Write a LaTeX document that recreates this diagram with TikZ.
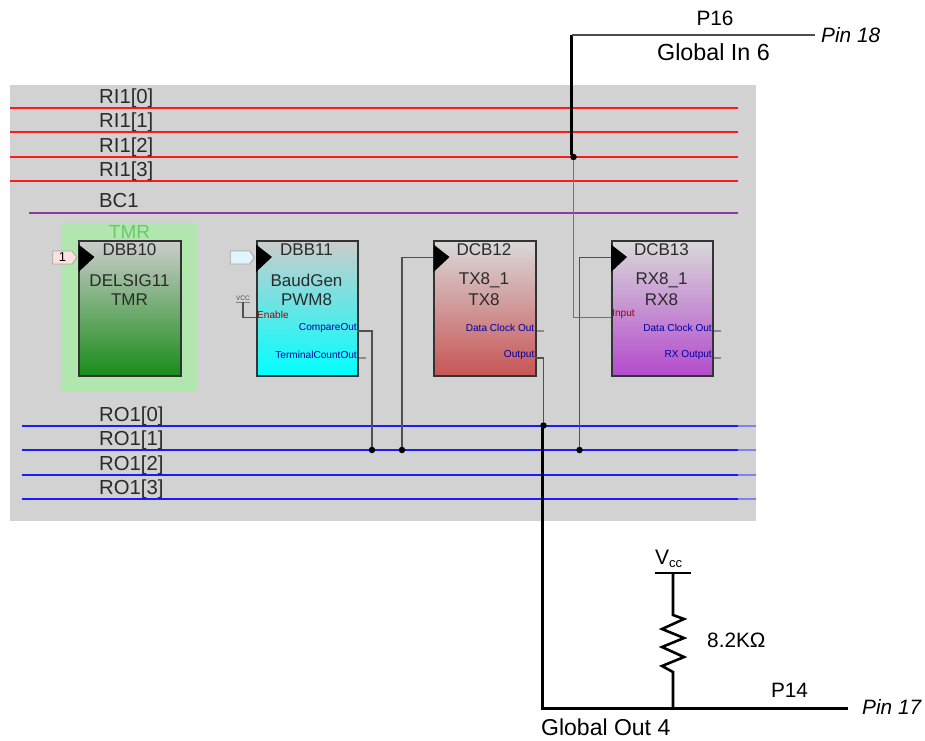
\documentclass[tikz,border=0pt]{standalone}
\usepackage{fontspec}
\setmainfont{Liberation Sans}
\usetikzlibrary{shapes.geometric,shapes.symbols}
\definecolor{panel}{HTML}{D2D2D2}
\definecolor{tmrbg}{HTML}{B2E6AF}
\definecolor{tmrtxt}{HTML}{66CC66}
\definecolor{wire}{HTML}{505050}
\definecolor{ink}{HTML}{2A2A2A}
\definecolor{busred}{HTML}{FF1A1A}
\definecolor{busblue}{HTML}{1A1AFF}
\definecolor{busfade}{HTML}{8080F0}
\definecolor{buspurple}{HTML}{8E3A9E}
\definecolor{portblue}{HTML}{0000A0}
\definecolor{portred}{HTML}{A00000}
\tikzset{
  x=1pt,y=-1pt,
  block/.style={draw=black!80,line width=2.1pt,minimum width=101.5pt,minimum height=135pt,inner sep=0pt,anchor=north west},
  blab/.style={inner sep=0pt,font=\fontsize{17}{19}\selectfont,text=ink},
  buslab/.style={inner sep=0pt,anchor=base west,font=\fontsize{20.3}{22}\selectfont,text=ink},
  lab/.style={inner sep=0pt,text=black},
  pinlab/.style={inner sep=0pt,anchor=west,font=\fontsize{20.8}{23}\selectfont\itshape,text=black},
  portout/.style={inner sep=0pt,anchor=east,font=\fontsize{10.1}{11}\selectfont,text=portblue},
  portin/.style={inner sep=0pt,anchor=west,font=\fontsize{10.1}{11}\selectfont,text=portred},
  redbus/.style={draw=busred,line width=1.9pt},
  bluebus/.style={draw=busblue,line width=1.9pt},
  fadebus/.style={draw=busfade,line width=1.9pt},
  thinwire/.style={draw=wire,line width=1.2pt},
  heavy/.style={draw=black,line width=3pt},
  junction/.style={circle,fill=black,inner sep=0pt,minimum size=6.5pt},
  clocktip/.style={fill=black},
  stubwire/.style={draw=black!45,line width=1.2pt},
  inpin/.style={draw=black!35,shape=signal,signal to=east,signal pointer angle=110,minimum width=24pt,minimum height=13pt,inner sep=0pt,line width=.8pt}
}
\begin{document}
\begin{tikzpicture}
\useasboundingbox (0,0) rectangle (925,740);
\fill[panel] (10,85) rectangle (756,521);
\fill[tmrbg] (62,223) rectangle (197,392);

% red input buses
\coordinate (ril0) at (10,108);   \coordinate (rir0) at (738,108);
\coordinate (ril1) at (10,132);   \coordinate (rir1) at (738,132);
\coordinate (ril2) at (10,157);   \coordinate (rir2) at (738,157);
\coordinate (ril3) at (10,181);   \coordinate (rir3) at (738,181);
\draw[redbus] (ril0) -- (rir0);
\draw[redbus] (ril1) -- (rir1);
\draw[redbus] (ril2) -- (rir2);
\draw[redbus] (ril3) -- (rir3);
\node[buslab] (rilab0) at (99,103) {RI1[0]};
\node[buslab] (rilab1) at (99,127.5) {RI1[1]};
\node[buslab] (rilab2) at (99,152) {RI1[2]};
\node[buslab] (rilab3) at (99,176.5) {RI1[3]};
% broadcast bus
\coordinate (bcl) at (29,213);
\coordinate (bcr) at (738,213);
\draw[draw=buspurple,line width=2pt] (bcl) -- (bcr);
\node[buslab] (bclab) at (99,207.5) {BC1};
% blue output buses
\coordinate (rol0) at (22,426); \coordinate (rom0) at (738,426); \coordinate (ror0) at (756,426);
\coordinate (rol1) at (22,450); \coordinate (rom1) at (738,450); \coordinate (ror1) at (756,450);
\coordinate (rol2) at (22,475); \coordinate (rom2) at (738,475); \coordinate (ror2) at (756,475);
\coordinate (rol3) at (22,499); \coordinate (rom3) at (738,499); \coordinate (ror3) at (756,499);
\draw[bluebus] (rol0) -- (rom0);
\draw[bluebus] (rol1) -- (rom1);
\draw[bluebus] (rol2) -- (rom2);
\draw[bluebus] (rol3) -- (rom3);
\draw[fadebus] (rom0) -- (ror0);
\draw[fadebus] (rom1) -- (ror1);
\draw[fadebus] (rom2) -- (ror2);
\draw[fadebus] (rom3) -- (ror3);
\node[buslab] (rolab0) at (99,421) {RO1[0]};
\node[buslab] (rolab1) at (99,445.5) {RO1[1]};
\node[buslab] (rolab2) at (99,470) {RO1[2]};
\node[buslab] (rolab3) at (99,494.5) {RO1[3]};

% blocks
\node[block,top color=black!20,bottom color=green!50!black!90!white] (b10) at (78,239.5) {};
\node[block,top color=black!20,bottom color=cyan] (b11) at (255.5,239.5) {};
\node[block,top color=black!15,bottom color={rgb,255:red,200;green,85;blue,85}] (b12) at (433,239.5) {};
\node[block,top color=black!15,bottom color={rgb,255:red,180;green,75;blue,205}] (b13) at (610.5,239.5) {};

\node[inner sep=0pt,text=tmrtxt,font=\fontsize{19}{21}\selectfont] (tmrlab) at (129.5,231.5) {TMR};
\node[blab] (b10a) at (129.5,249.5) {DBB10};
\node[blab] (b10b) at (129.5,280.5) {DELSIG11};
\node[blab] (b10c) at (129.5,300) {TMR};
\node[blab] (b11a) at (306.5,249.5) {DBB11};
\node[blab] (b11b) at (306.5,280.5) {BaudGen};
\node[blab] (b11c) at (306.5,300) {PWM8};
\node[blab] (b12a) at (484,249.5) {DCB12};
\node[blab] (b12b) at (484,280.5) {TX8\_1};
\node[blab] (b12c) at (484,300) {TX8};
\node[blab] (b13a) at (661.5,249.5) {DCB13};
\node[blab] (b13b) at (661.5,280.5) {RX8\_1};
\node[blab] (b13c) at (661.5,300) {RX8};

% clock triangles
\fill[clocktip] (b10.north west) ++(0.5,5) -- ++(16,12.5) -- ++(-16,15) -- cycle;
\fill[clocktip] (b11.north west) ++(0.5,5) -- ++(16,12.5) -- ++(-16,15) -- cycle;
\fill[clocktip] (b12.north west) ++(0.5,5) -- ++(16,12.5) -- ++(-16,15) -- cycle;
\fill[clocktip] (b13.north west) ++(0.5,5) -- ++(16,12.5) -- ++(-16,15) -- cycle;

% input pins
\node[inpin,fill=red!12,font=\fontsize{13}{14}\selectfont] (pin1) at (62.5,257.5) {1};
\node[inpin,fill=cyan!12] (pin2) at (240,257.5) {};

% VCC tag
\node[inner sep=0pt,font=\fontsize{6.5}{7}\selectfont,text=black!70] (vcctag) at (243,298.5) {VCC};
\coordinate (vcca) at (236,302);
\coordinate (vccb) at (250,302);
\coordinate (vccc) at (243,302);
\coordinate (vccd) at (256,317.5);
\draw[draw=black!50,line width=.8pt] (vcca) -- (vccb);
\draw[thinwire] (vccc) |- (vccd);

% junctions
\node[junction] (j1) at (372,450) {};
\node[junction] (j2) at (402,450) {};
\node[junction] (j3) at (579.5,450) {};
\node[junction] (j4) at (543.5,425.5) {};
\node[junction] (j5) at (573.5,157) {};

% stubs and wires
\coordinate (tcs) at (366,358);
\coordinate (dcs12) at (544,331);
\coordinate (dcs13) at (721,331);
\coordinate (rxs) at (721,358);
\draw[stubwire] (b11.east |- tcs) -- (tcs);
\draw[stubwire] (b12.east |- dcs12) -- (dcs12);
\draw[stubwire] (b13.east |- dcs13) -- (dcs13);
\draw[stubwire] (b13.east |- rxs) -- (rxs);
\coordinate (cmp) at (357,331);
\coordinate (outp) at (535,358);
\coordinate (clk12) at (433,257.5);
\coordinate (clk13) at (610.5,257.5);
\coordinate (inp) at (610.5,317.5);
\draw[thinwire] (cmp) -| (j1);
\draw[thinwire] (clk12) -| (j2);
\draw[thinwire] (clk13) -| (j3);
\draw[thinwire] (outp) -| (j4);
\draw[draw=black!55,line width=1.3pt] (j5) |- (inp);

% ports
\node[portin] (enlab) at (257,314.5) {Enable};
\node[portout] (colab) at (357,328) {CompareOut};
\node[portout] (tclab) at (357,355) {TerminalCountOut};
\node[portout] (dc12lab) at (534.5,328) {Data Clock Out};
\node[portout] (outlab) at (534.5,355) {Output};
\node[portin] (inlab) at (612,314.5) {Input};
\node[portout] (dc13lab) at (712,328) {Data Clock Out};
\node[portout] (rxlab) at (712,355) {RX Output};

% Global In 6
\coordinate (gin) at (571.5,35);
\coordinate (gine) at (815,35);
\coordinate (ginb) at (571.5,155);
\draw[heavy] (gin) -- (ginb);
\draw[draw=black!70,line width=1.2pt] (gin) -- (gine);
\node[lab,font=\fontsize{20.8}{23}\selectfont] (p16) at (715,18) {P16};
\node[lab,font=\fontsize{23.3}{25}\selectfont] (gilab) at (713.5,52) {Global In 6};
\node[pinlab] (pin18) at (821,35) {Pin 18};

% Global Out 4
\coordinate (gob) at (542,708);
\coordinate (goe) at (848,708);
\coordinate (got) at (542,426);
\draw[draw=black,line width=3pt,line join=miter] (got) -- (gob) -- (goe);

% pull-up
\coordinate (vbar) at (673,573);
\coordinate (vbl) at (655,573);
\coordinate (vbr) at (691,573);
\coordinate (rjoin) at (673,708);
\draw[draw=black,line width=2.6pt] (vbl) -- (vbr);
\draw[draw=black,line width=2.6pt,line join=miter] (vbar) -- (673,615) -- (684,619) -- (662,629) -- (684,638) -- (662,647) -- (684,657) -- (662,666) -- (673,672) -- (rjoin);
\node[inner sep=0pt,anchor=base west,font=\fontsize{21}{23}\selectfont] (vcc) at (655,564) {V\raisebox{-3.5pt}{\fontsize{13}{14}\selectfont cc}};
\node[inner sep=0pt,anchor=west,font=\fontsize{20.8}{23}\selectfont] (rval) at (707,640) {8.2KΩ};
\node[lab,font=\fontsize{20.8}{23}\selectfont] (p14) at (789.5,690) {P14};
\node[pinlab] (pin17) at (862,707) {Pin 17};
\node[lab,anchor=west,font=\fontsize{23}{25}\selectfont] (golab) at (541,727) {Global Out 4};
\end{tikzpicture}
\end{document}
